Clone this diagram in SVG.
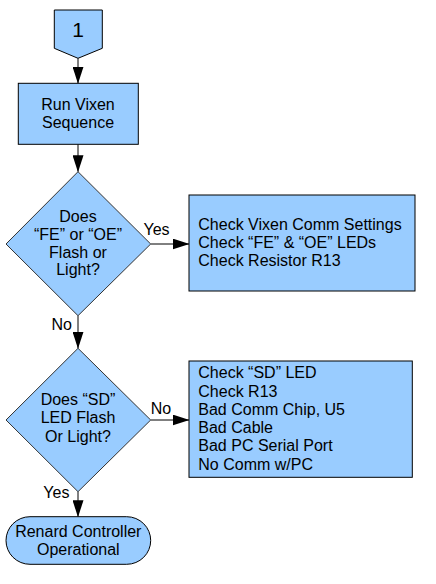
<svg xmlns="http://www.w3.org/2000/svg" width="436" height="584" viewBox="0 0 436 584">
<style>
.shape{fill:#99ccff;stroke:#000;stroke-width:1}
.dia{fill:#99ccff;stroke:#333;stroke-width:1}
text{font-family:"Liberation Sans",Arial,sans-serif;font-size:16px;fill:#000}
.c{text-anchor:middle}
.conn{stroke:#000;stroke-width:1;fill:none;marker-end:url(#arr)}
</style>
<defs>
<marker id="arr" markerUnits="userSpaceOnUse" markerWidth="17" markerHeight="11" refX="16.5" refY="5.5" orient="auto">
<path d="M0,0 L17,5.5 L0,11 z" fill="#000"/>
</marker>
</defs>
<rect width="436" height="584" fill="#fff"/>
<g id="connectors">
<line class="conn" x1="78" y1="58.3" x2="78" y2="83.3"/>
<line class="conn" x1="78" y1="144.3" x2="78" y2="171.7"/>
<line class="conn" x1="150.7" y1="244" x2="189" y2="244"/>
<line class="conn" x1="78" y1="315.7" x2="78" y2="348.3"/>
<line class="conn" x1="150.7" y1="420" x2="189" y2="420"/>
<line class="conn" x1="78" y1="491.7" x2="78" y2="516.7"/>
<text x="143.5" y="235">Yes</text>
<text x="51.5" y="330">No</text>
<text x="150.7" y="414">No</text>
<text x="43.3" y="498.3">Yes</text>
</g>
<g id="start">
<polygon class="shape" points="54.3,10 102.3,10 102.3,48.3 78,58.3 54.3,48.3"/>
<text class="c" x="78" y="36.7" style="font-size:21px">1</text>
</g>
<g id="run">
<rect class="shape" x="18.3" y="83.3" width="120" height="61"/>
<text class="c" x="78" y="110">Run Vixen</text>
<text class="c" x="78" y="128">Sequence</text>
</g>
<g id="decision1">
<polygon class="dia" points="78,171.7 150.7,244 78,315.7 6,244"/>
<text class="c" x="78" y="222">Does</text>
<text class="c" x="78" y="240">“FE” or “OE”</text>
<text class="c" x="78" y="257.5">Flash or</text>
<text class="c" x="78" y="275">Light?</text>
</g>
<g id="check1">
<rect class="shape" x="189" y="195" width="226" height="96"/>
<text x="198.3" y="230">Check Vixen Comm Settings</text>
<text x="198.3" y="248">Check “FE” &amp; “OE” LEDs</text>
<text x="198.3" y="266">Check Resistor R13</text>
</g>
<g id="decision2">
<polygon class="dia" points="78,348.3 150.7,420 78,491.7 6,420"/>
<text class="c" x="78" y="405">Does “SD”</text>
<text class="c" x="78" y="423.3">LED Flash</text>
<text class="c" x="78" y="441.7">Or Light?</text>
</g>
<g id="check2">
<rect class="shape" x="189" y="361" width="223.3" height="116.3"/>
<text x="198.3" y="378.3">Check “SD” LED</text>
<text x="198.3" y="396.5">Check R13</text>
<text x="198.3" y="414.8">Bad Comm Chip, U5</text>
<text x="198.3" y="433">Bad Cable</text>
<text x="198.3" y="451.3">Bad PC Serial Port</text>
<text x="198.3" y="469.6">No Comm w/PC</text>
</g>
<g id="end">
<rect class="shape" x="6" y="516.7" width="144.7" height="47.6" rx="24" ry="23.8"/>
<text class="c" x="78.3" y="537">Renard Controller</text>
<text class="c" x="78.3" y="555">Operational</text>
</g>
</svg>
